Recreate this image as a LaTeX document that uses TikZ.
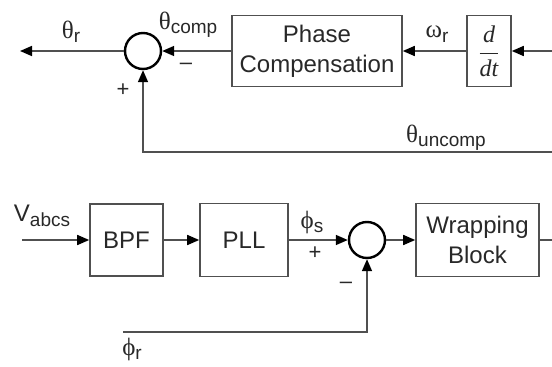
\documentclass[tikz,border=0pt]{standalone}
\usepackage{fontspec}
\setmainfont{Liberation Sans}
\newfontfamily\greekfont{Liberation Serif}
\usetikzlibrary{arrows.meta, positioning}
\definecolor{WireGray}{RGB}{80,80,80}
\definecolor{TextGray}{RGB}{40,40,40}
\newcommand{\sig}[2]{{\greekfont\fontsize{25}{25}\selectfont #1}\raisebox{-0.4ex}{\fontsize{19}{19}\selectfont #2}}

\begin{document}
\begin{tikzpicture}[x=1pt, y=-1pt,
    blockbox/.style={draw=WireGray, line width=1.6pt, inner sep=0pt, align=center,
                     text=TextGray, font=\fontsize{24}{30}\selectfont},
    sumnode/.style={draw=black, circle, line width=2.4pt, minimum size=36pt, inner sep=0pt},
    wire/.style={draw=WireGray, line width=1.6pt},
    sigarrow/.style={wire, -{Triangle[length=12pt, width=10pt, color=black]}},
    lbl/.style={text=TextGray, font=\fontsize{21}{21}\selectfont, inner sep=0pt},
    sgn/.style={text=TextGray, font=\fontsize{22}{22}\selectfont, inner sep=0pt}]
  \useasboundingbox (0,0) rectangle (552,367);

  % angle compensation
  \node[sumnode] (sumtop) at (143,51) {};
  \node[blockbox, minimum width=170pt, minimum height=71pt] (phase) at (317,51) {Phase\\Compensation};
  \node[blockbox, minimum width=44pt, minimum height=71pt] (ddt) at (489,51)
    {\fontsize{24}{24}\selectfont$\displaystyle\frac{\hbox{\greekfont\itshape d}}{\hbox{\greekfont\itshape dt}}$};
  \coordinate (thetain) at (552,51);
  \coordinate (thetaout) at (20,51);
  \coordinate (fbtop) at (552,152);

  \draw[sigarrow] (thetain) -- (ddt);
  \draw[sigarrow] (ddt) -- (phase);
  \draw[sigarrow] (phase) -- (sumtop);
  \draw[sigarrow] (sumtop) -- (thetaout);
  \draw[sigarrow] (fbtop) -| (sumtop);

  \node[lbl] (thetar) at (71,32) {\sig{θ}{r}};
  \node[lbl] (thetacomp) at (188,25) {\sig{θ}{comp}};
  \node[lbl] (omegar) at (437,34) {\sig{ω}{r}};
  \node[lbl] (thetauncomp) at (446,138) {\sig{θ}{uncomp}};
  \node[sgn] (minustop) at (186,66) {\textendash};
  \node[sgn] (plustop) at (123,90) {+};

  % flux angle
  \coordinate (vin) at (22,240);
  \node[blockbox, minimum width=73pt, minimum height=72pt] (bpf) at (126.5,240) {BPF};
  \node[blockbox, minimum width=88pt, minimum height=73pt] (pll) at (244,240) {PLL};
  \node[sumnode] (sumbot) at (367,240) {};
  \node[blockbox, minimum width=123pt, minimum height=73pt] (wrap) at (477.5,240) {Wrapping\\Block};
  \coordinate (wrapout) at (552,240);
  \coordinate (phirin) at (123,332);

  \draw[sigarrow] (vin) -- (bpf);
  \draw[sigarrow] (bpf) -- (pll);
  \draw[sigarrow] (pll) -- (sumbot);
  \draw[sigarrow] (sumbot) -- (wrap);
  \draw[wire] (wrap) -- (wrapout);
  \draw[sigarrow] (phirin) -| (sumbot);

  \node[lbl] (vabcs) at (42,216) {{\fontsize{24}{24}\selectfont V}\raisebox{-0.4ex}{\fontsize{19}{19}\selectfont abcs}};
  \node[lbl] (phis) at (312,222) {\sig{ϕ}{s}};
  \node[lbl] (phir) at (132,349) {\sig{ϕ}{r}};
  \node[sgn] (plusbot) at (315,253) {+};
  \node[sgn] (minusbot) at (346,285) {\textendash};
\end{tikzpicture}
\end{document}
